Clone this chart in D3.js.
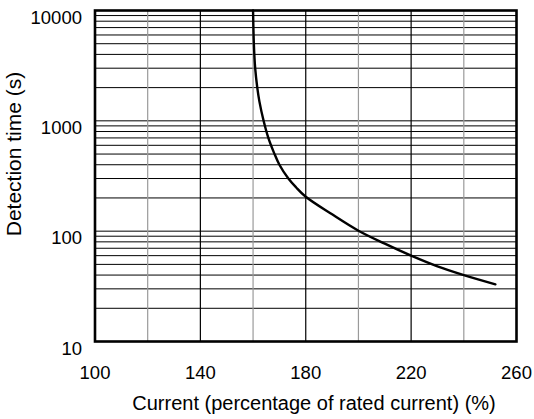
<!DOCTYPE html>
<html>
<head>
<meta charset="utf-8">
<script src="https://cdn.jsdelivr.net/npm/d3@7"></script>
<style>
  html, body { margin: 0; padding: 0; background: #fff; }
  svg { display: block; }
  text { font-family: "Liberation Sans", Arial, sans-serif; fill: #000; }
</style>
</head>
<body>
<script>
// Trip curve: detection time versus overload current
const currentPct = [160, 160.3, 160.8, 161.6, 162.4, 164, 165.8, 168, 170, 173.4, 176.3, 180, 190, 200, 210, 220, 230, 240, 252];
const detectionSec = [10000, 5000, 3000, 2000, 1500, 1000, 700, 510, 400, 300, 250, 205, 142, 101, 77, 60, 48, 40, 33];

const xTicks = [100, 140, 180, 220, 260];
const xMinorGrid = [120, 160, 200, 240];
const yTicks = [10, 100, 1000, 10000];
const xDomain = [100, 260];
const yDomain = [10, 10000];

const W = 534, H = 419;
const plot = { left: 95, right: 516.5, top: 10.5, bottom: 341.5 };

const svg = d3.select("body").append("svg")
  .attr("width", W).attr("height", H);

const x = d3.scaleLinear().domain(xDomain).range([plot.left, plot.right]);
const y = d3.scaleLog().domain(yDomain).range([plot.bottom, plot.top]);

// Horizontal grid: every 1..9 step of each decade
const yGrid = [];
for (let d = 10; d < 10000; d *= 10) {
  for (let k = 1; k <= 9; k++) {
    const v = d * k;
    if (v > 10 && v < 10000) yGrid.push(v);
  }
}

const grid = svg.append("g");
grid.selectAll("line.h").data(yGrid).join("line")
  .attr("class", "h")
  .attr("x1", plot.left).attr("x2", plot.right)
  .attr("y1", d => y(d)).attr("y2", d => y(d))
  .attr("stroke", "#000").attr("stroke-width", 1);

grid.selectAll("line.vminor").data(xMinorGrid).join("line")
  .attr("class", "vminor")
  .attr("x1", d => x(d)).attr("x2", d => x(d))
  .attr("y1", plot.top).attr("y2", plot.bottom)
  .attr("stroke", "#9a9a9a").attr("stroke-width", 1.2);

grid.selectAll("line.vmajor").data(xTicks.slice(1, -1)).join("line")
  .attr("class", "vmajor")
  .attr("x1", d => x(d)).attr("x2", d => x(d))
  .attr("y1", plot.top).attr("y2", plot.bottom)
  .attr("stroke", "#000").attr("stroke-width", 1.2);

// Curve
const pts = currentPct.map((c, i) => [c, detectionSec[i]]);
svg.append("path")
  .datum(pts)
  .attr("fill", "none")
  .attr("stroke", "#000")
  .attr("stroke-width", 2.4)
  .attr("stroke-linecap", "round")
  .attr("d", d3.line().x(d => x(d[0])).y(d => y(d[1])).curve(d3.curveCatmullRom.alpha(0.5)));

// Frame
svg.append("rect")
  .attr("x", plot.left).attr("y", plot.top)
  .attr("width", plot.right - plot.left).attr("height", plot.bottom - plot.top)
  .attr("fill", "none").attr("stroke", "#000").attr("stroke-width", 2.6);

// Tick labels
svg.append("g").selectAll("text").data(yTicks).join("text")
  .attr("x", 82).attr("y", d => y(d) + 13)
  .attr("text-anchor", "end")
  .style("font-size", "18.5px")
  .text(d => d);

svg.append("g").selectAll("text").data(xTicks).join("text")
  .attr("x", d => x(d)).attr("y", 379)
  .attr("text-anchor", "middle")
  .style("font-size", "18.5px")
  .text(d => d);

// Axis titles
svg.append("text")
  .attr("x", 314).attr("y", 410)
  .attr("text-anchor", "middle")
  .style("font-size", "20px")
  .text("Current (percentage of rated current) (%)");

svg.append("text")
  .attr("transform", "translate(21,154) rotate(-90)")
  .attr("text-anchor", "middle")
  .style("font-size", "21px")
  .text("Detection time (s)");
</script>
</body>
</html>
